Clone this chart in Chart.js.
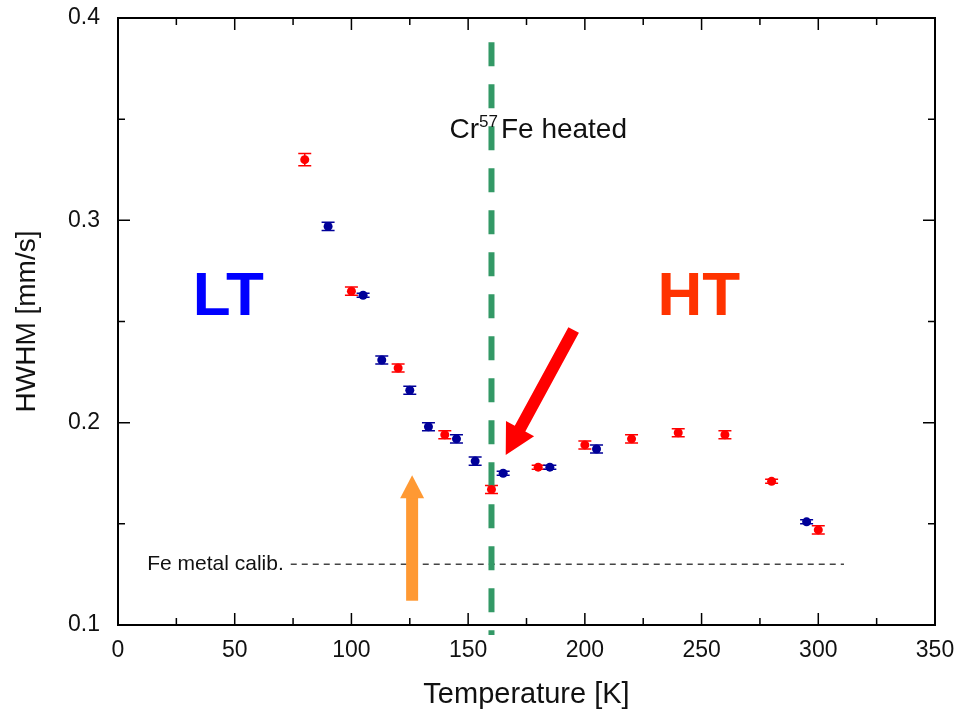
<!DOCTYPE html>
<html>
<head>
<meta charset="utf-8">
<script src="https://cdn.jsdelivr.net/npm/chart.js@4/dist/chart.umd.min.js"></script>
<style>
  html, body { margin: 0; padding: 0; background: #fff; }
  #wrap { width: 963px; height: 716px; }
</style>
</head>
<body>
<div id="wrap"><canvas id="chartHwhm"></canvas></div>
<script>
// HT (heated) series - red
const redTemps = [80, 100, 120, 140, 160, 180, 200, 220, 240, 260, 280, 300];
const redHwhm = [0.330, 0.265, 0.227, 0.194, 0.167, 0.178, 0.189, 0.192, 0.195, 0.194, 0.171, 0.147];
const redErr = [0.003, 0.002, 0.002, 0.002, 0.002, 0.001, 0.002, 0.002, 0.002, 0.002, 0.001, 0.002];

// LT series - blue
const blueTemps = [90, 105, 113, 125, 133, 145, 153, 165, 185, 205, 295];
const blueHwhm = [0.297, 0.263, 0.231, 0.216, 0.198, 0.192, 0.181, 0.175, 0.178, 0.187, 0.151];
const blueErr = [0.002, 0.001, 0.002, 0.002, 0.002, 0.002, 0.002, 0.001, 0.001, 0.002, 0.001];

const xTicks = [0, 50, 100, 150, 200, 250, 300, 350];
const yTicks = [0.1, 0.2, 0.3, 0.4];

const calibValue = 0.13;
const calibRange = [74, 311];
const markerTemp = 160;

const toPoints = (xs, ys, es) => xs.map((x, i) => ({ x: x, y: ys[i], e: es[i] }));

const FONT = "'Liberation Sans', Arial, sans-serif";

// error bars, frame, inward ticks and the annotations
const extrasPlugin = {
  id: "extras",
  beforeDatasetsDraw(chart) {
    const { ctx, scales: { x, y } } = chart;
    ctx.save();
    chart.data.datasets.forEach((ds) => {
      ctx.strokeStyle = ds.borderColor;
      ctx.lineWidth = 1.5;
      ds.data.forEach((p) => {
        const px = x.getPixelForValue(p.x);
        const top = y.getPixelForValue(p.y + p.e);
        const bot = y.getPixelForValue(p.y - p.e);
        ctx.beginPath();
        ctx.moveTo(px, top); ctx.lineTo(px, bot);
        ctx.moveTo(px - 6.5, top); ctx.lineTo(px + 6.5, top);
        ctx.moveTo(px - 6.5, bot); ctx.lineTo(px + 6.5, bot);
        ctx.stroke();
      });
    });

    // Fe metal calibration line
    ctx.strokeStyle = "#444";
    ctx.lineWidth = 1.5;
    ctx.setLineDash([6, 5]);
    ctx.beginPath();
    ctx.moveTo(x.getPixelForValue(calibRange[0]), y.getPixelForValue(calibValue));
    ctx.lineTo(x.getPixelForValue(calibRange[1]), y.getPixelForValue(calibValue));
    ctx.stroke();
    ctx.setLineDash([]);
    ctx.fillStyle = "#111";
    ctx.font = "21px " + FONT;
    ctx.textAlign = "left";
    ctx.textBaseline = "middle";
    ctx.fillText("Fe metal calib.", x.getPixelForValue(12.5), y.getPixelForValue(calibValue));

    // orange arrow
    const ox = x.getPixelForValue(126);
    const oBot = y.getPixelForValue(0.112);
    const oTip = y.getPixelForValue(0.174);
    ctx.fillStyle = "#ff9933";
    ctx.fillRect(ox - 6, oTip + 22, 12, oBot - oTip - 22);
    ctx.beginPath();
    ctx.moveTo(ox, oTip);
    ctx.lineTo(ox - 12, oTip + 23);
    ctx.lineTo(ox + 12, oTip + 23);
    ctx.closePath();
    ctx.fill();

    // green vertical dashed line
    ctx.strokeStyle = "#339966";
    ctx.lineWidth = 6;
    ctx.setLineDash([24, 18]);
    ctx.beginPath();
    ctx.moveTo(x.getPixelForValue(markerTemp), y.getPixelForValue(0.388));
    ctx.lineTo(x.getPixelForValue(markerTemp), y.getPixelForValue(0.095));
    ctx.stroke();
    ctx.setLineDash([]);
    ctx.restore();
  },
  afterDatasetsDraw(chart) {
    const { ctx, chartArea: a, scales: { x, y } } = chart;
    ctx.save();

    // red arrow
    const sx = x.getPixelForValue(195.2), sy = y.getPixelForValue(0.2458);
    const tx = x.getPixelForValue(166.1), ty = y.getPixelForValue(0.184);
    const ang = Math.atan2(ty - sy, tx - sx);
    const len = Math.hypot(tx - sx, ty - sy);
    ctx.translate(sx, sy);
    ctx.rotate(ang);
    ctx.fillStyle = "#ff0000";
    ctx.beginPath();
    ctx.moveTo(0, -6);
    ctx.lineTo(len - 30, -6);
    ctx.lineTo(len - 30, -16);
    ctx.lineTo(len, 0);
    ctx.lineTo(len - 30, 16);
    ctx.lineTo(len - 30, 6);
    ctx.lineTo(0, 6);
    ctx.closePath();
    ctx.fill();
    ctx.setTransform(1, 0, 0, 1, 0, 0);

    // LT / HT labels
    ctx.font = "bold 62px " + FONT;
    ctx.textAlign = "center";
    ctx.textBaseline = "middle";
    ctx.fillStyle = "#0000ff";
    ctx.fillText("LT", x.getPixelForValue(47.3), y.getPixelForValue(0.2616));
    ctx.fillStyle = "#ff3300";
    ctx.fillText("HT", x.getPixelForValue(248.8), y.getPixelForValue(0.2616));

    // Cr57Fe heated
    ctx.fillStyle = "#111";
    ctx.textAlign = "left";
    ctx.textBaseline = "alphabetic";
    let cx = x.getPixelForValue(142);
    const base = y.getPixelForValue(0.3446) + 8;
    ctx.font = "28px " + FONT;
    ctx.fillText("Cr", cx, base);
    cx += ctx.measureText("Cr").width;
    ctx.font = "17px " + FONT;
    ctx.fillText("57", cx, base - 11);
    cx += ctx.measureText("57").width + 3;
    ctx.font = "28px " + FONT;
    ctx.fillText("Fe heated", cx, base);

    // frame
    ctx.strokeStyle = "#000";
    ctx.lineWidth = 2;
    ctx.strokeRect(a.left, a.top, a.right - a.left, a.bottom - a.top);

    // inward ticks on all four sides
    ctx.lineWidth = 1.5;
    ctx.beginPath();
    for (let v = 0; v <= 350; v += 25) {
      const px = x.getPixelForValue(v);
      const l = v % 50 === 0 ? 12 : 7;
      ctx.moveTo(px, a.bottom); ctx.lineTo(px, a.bottom - l);
      ctx.moveTo(px, a.top); ctx.lineTo(px, a.top + l);
    }
    for (let k = 2; k <= 8; k++) {
      const v = k * 0.05;
      const py = y.getPixelForValue(v);
      const l = k % 2 === 0 ? 12 : 7;
      ctx.moveTo(a.left, py); ctx.lineTo(a.left + l, py);
      ctx.moveTo(a.right, py); ctx.lineTo(a.right - l, py);
    }
    ctx.stroke();
    ctx.restore();
  }
};

const noPad = (s) => { s.paddingTop = 0; s.paddingBottom = 0; s.paddingLeft = 0; s.paddingRight = 0; };

const configHwhm = {
  type: "scatter",
  data: {
    datasets: [
      {
        label: "HT",
        data: toPoints(redTemps, redHwhm, redErr),
        backgroundColor: "#ff0000",
        borderColor: "#ff0000",
        pointRadius: 4.5,
        pointBorderWidth: 0,
      },
      {
        label: "LT",
        data: toPoints(blueTemps, blueHwhm, blueErr),
        backgroundColor: "#000099",
        borderColor: "#000099",
        pointRadius: 4.5,
        pointBorderWidth: 0,
      },
    ],
  },
  options: {
    responsive: true,
    maintainAspectRatio: false,
    animation: false,
    layout: { padding: { left: 0, right: 28, top: 18, bottom: 0 } },
    plugins: {
      legend: { display: false },
      tooltip: { enabled: false },
    },
    scales: {
      x: {
        type: "linear",
        min: 0,
        max: 350,
        afterBuildTicks: (s) => { s.ticks = xTicks.map((v) => ({ value: v })); },
        afterFit: (s) => { s.height = 91; noPad(s); },
        grid: { display: false, drawTicks: false },
        border: { display: false },
        ticks: { color: "#111", padding: 12, font: { size: 23, family: FONT } },
        title: {
          display: true,
          text: "Temperature [K]",
          color: "#111",
          padding: { top: 16 },
          font: { size: 29, family: FONT },
        },
      },
      y: {
        type: "linear",
        min: 0.1,
        max: 0.4,
        afterBuildTicks: (s) => { s.ticks = yTicks.map((v) => ({ value: v })); },
        afterFit: (s) => { s.width = 118; noPad(s); },
        grid: { display: false, drawTicks: false },
        border: { display: false },
        ticks: {
          color: "#111",
          padding: 18,
          font: { size: 23, family: FONT },
          callback: (v) => v.toFixed(1),
        },
        title: {
          display: true,
          text: "HWHM [mm/s]",
          color: "#111",
          padding: { top: 10, bottom: 0 },
          font: { size: 28, family: FONT },
        },
      },
    },
  },
  plugins: [extrasPlugin],
};

var chartHwhm = new Chart(document.getElementById("chartHwhm"), configHwhm);
</script>
</body>
</html>
